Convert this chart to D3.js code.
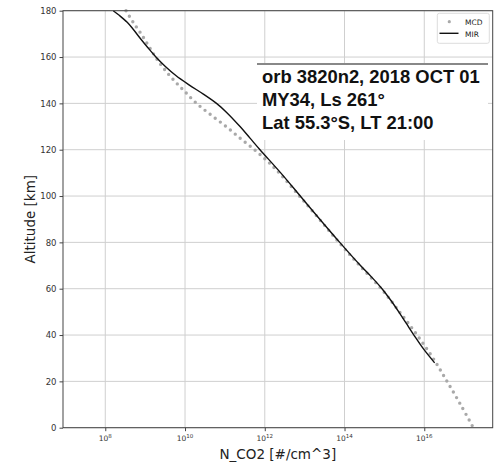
<!DOCTYPE html>
<html>
<head>
<meta charset="utf-8">
<script src="https://cdn.jsdelivr.net/npm/d3@7/dist/d3.min.js"></script>
<style>
  body { margin: 0; background: #fff; }
  svg text { font-family: "DejaVu Sans", sans-serif; }
  svg text.info { font-family: "Liberation Sans", Arial, sans-serif; font-weight: bold; }
</style>
</head>
<body>
<svg id="chart" width="494" height="464"></svg>
<script>
// altitude [km] and log10 of CO2 number density
var mcdAlt = [180, 175, 170, 165, 160, 155, 150, 145, 140, 135, 130, 125, 120, 115, 110, 100, 90, 80, 70, 60, 50, 40, 30, 20, 10, 0];
var mcdLogN = [8.52, 8.70, 8.90, 9.08, 9.26, 9.47, 9.72, 10.00, 10.29, 10.65, 11.03, 11.38, 11.74, 12.07, 12.36, 12.87, 13.37, 13.86, 14.38, 14.92, 15.38, 15.82, 16.22, 16.57, 16.91, 17.23];

var mirAlt = [180, 178, 175, 172, 168, 164, 160, 156, 152, 148, 144, 140, 136, 130, 125, 120, 110, 100, 90, 80, 70, 65, 60, 55, 50, 45, 40, 34, 28];
var mirLogN = [8.20, 8.35, 8.55, 8.70, 8.88, 9.07, 9.27, 9.50, 9.77, 10.10, 10.46, 10.79, 11.05, 11.38, 11.63, 11.88, 12.40, 12.89, 13.38, 13.88, 14.40, 14.68, 14.94, 15.16, 15.36, 15.55, 15.74, 15.98, 16.26];

var xTickExp = [8, 10, 12, 14, 16];
var yTicks = [0, 20, 40, 60, 80, 100, 120, 140, 160, 180];

var infoLines = ['orb 3820n2, 2018 OCT 01', 'MY34, Ls 261°', 'Lat 55.3°S, LT 21:00'];

var svg = d3.select('#chart');
var pLeft = 63, pRight = 492.7, pTop = 10.7, pBottom = 427.7;

var x = d3.scaleLog().domain([Math.pow(10, 6.94), Math.pow(10, 17.716)]).range([pLeft, pRight]);
var y = d3.scaleLinear().domain([0, 180]).range([pBottom, pTop]);

// grid
var grid = svg.append('g').attr('class', 'grid');
grid.selectAll('.gx').data(xTickExp).enter().append('line')
  .attr('x1', function (d) { return x(Math.pow(10, d)); })
  .attr('x2', function (d) { return x(Math.pow(10, d)); })
  .attr('y1', pTop).attr('y2', pBottom)
  .attr('stroke', '#cfcfcf').attr('stroke-width', 1);
grid.selectAll('.gy').data(yTicks).enter().append('line')
  .attr('y1', function (d) { return y(d); })
  .attr('y2', function (d) { return y(d); })
  .attr('x1', pLeft).attr('x2', pRight)
  .attr('stroke', '#cfcfcf').attr('stroke-width', 1);

// MCD (dotted) then MIR (solid)
var mcd = mcdAlt.map(function (a, i) { return { alt: a, n: Math.pow(10, mcdLogN[i]) }; });
var mir = mirAlt.map(function (a, i) { return { alt: a, n: Math.pow(10, mirLogN[i]) }; });

var line = d3.line()
  .x(function (d) { return x(d.n); })
  .y(function (d) { return y(d.alt); })
  .curve(d3.curveCatmullRom);

svg.append('path').datum(mcd)
  .attr('d', line)
  .attr('fill', 'none')
  .attr('stroke', '#a9a9a9')
  .attr('stroke-width', 3.4)
  .attr('stroke-linecap', 'round')
  .attr('stroke-dasharray', '0 6.4');

svg.append('path').datum(mir)
  .attr('d', line)
  .attr('fill', 'none')
  .attr('stroke', '#111')
  .attr('stroke-width', 1.4);

// axes
var xAxis = svg.append('g').attr('transform', 'translate(0,' + pBottom + ')')
  .call(d3.axisBottom(x).tickValues(xTickExp.map(function (e) { return Math.pow(10, e); })).tickSize(3.5).tickFormat(''));
var yAxis = svg.append('g').attr('transform', 'translate(' + pLeft + ',0)')
  .call(d3.axisLeft(y).tickValues(yTicks).tickSize(3.5).tickFormat(d3.format('d')));

[xAxis, yAxis].forEach(function (g) {
  g.select('.domain').remove();
  g.selectAll('.tick line').attr('stroke', '#444');
});
yAxis.selectAll('.tick text').attr('font-size', 8.5).attr('fill', '#333').attr('x', -6.5);

// x tick labels with superscript
xTickExp.forEach(function (e) {
  var t = svg.append('text')
    .attr('x', x(Math.pow(10, e)))
    .attr('y', 441)
    .attr('text-anchor', 'middle')
    .attr('font-size', 7.5)
    .attr('fill', '#333');
  t.append('tspan').text('10');
  t.append('tspan').attr('dy', -3).attr('font-size', 5.5).text(e);
});

// frame
svg.append('rect')
  .attr('x', pLeft).attr('y', pTop)
  .attr('width', pRight - pLeft).attr('height', pBottom - pTop)
  .attr('fill', 'none').attr('stroke', '#444').attr('stroke-width', 1);

// axis labels
svg.append('text')
  .attr('x', (pLeft + pRight) / 2).attr('y', 459)
  .attr('text-anchor', 'middle').attr('font-size', 13.5).attr('fill', '#222')
  .text('N_CO2 [#/cm^3]');
svg.append('text')
  .attr('transform', 'translate(35,' + ((pTop + pBottom) / 2) + ') rotate(-90)')
  .attr('text-anchor', 'middle').attr('font-size', 13.5).attr('fill', '#222')
  .text('Altitude [km]');

// info box
var info = svg.append('g');
info.append('rect').attr('x', 257).attr('y', 64).attr('width', 231).attr('height', 76).attr('fill', '#fff');
info.append('line').attr('x1', 257).attr('x2', 488).attr('y1', 64).attr('y2', 64)
  .attr('stroke', '#888').attr('stroke-width', 2);
info.selectAll('.info').data(infoLines).enter().append('text')
  .attr('class', 'info')
  .attr('x', 262)
  .attr('y', function (d, i) { return 83 + i * 23; })
  .attr('font-size', 18.4)
  .attr('fill', '#111')
  .text(function (d) { return d; });

// legend
var lg = svg.append('g');
lg.append('rect').attr('x', 437.3).attr('y', 13.3).attr('width', 52).attr('height', 30).attr('rx', 2)
  .attr('fill', '#fff').attr('stroke', '#ddd').attr('stroke-width', 1);
lg.append('circle').attr('cx', 449.3).attr('cy', 21.7).attr('r', 1.6).attr('fill', '#a9a9a9');
lg.append('line').attr('x1', 439.5).attr('x2', 458.5).attr('y1', 33.3).attr('y2', 33.3)
  .attr('stroke', '#111').attr('stroke-width', 1.4);
lg.append('text').attr('x', 465).attr('y', 24.5).attr('font-size', 7.5).attr('fill', '#222').text('MCD');
lg.append('text').attr('x', 465).attr('y', 36.5).attr('font-size', 7.5).attr('fill', '#222').text('MIR');
</script>
</body>
</html>
